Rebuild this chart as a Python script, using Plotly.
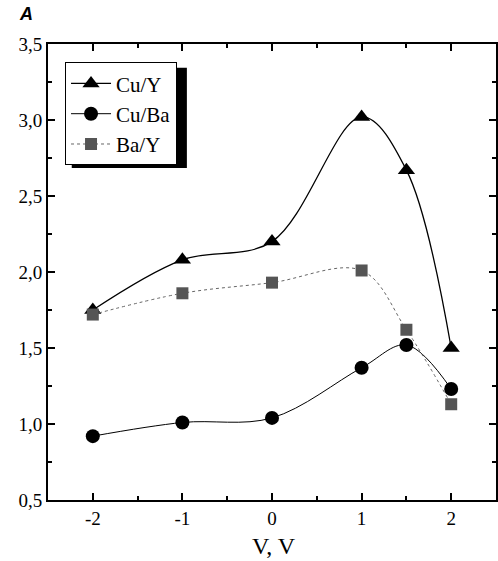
import plotly.graph_objects as go

voltage = [-2, -1, 0, 1, 1.5, 2]
cu_y = [1.75, 2.08, 2.20, 3.02, 2.67, 1.50]
cu_ba = [0.92, 1.01, 1.04, 1.37, 1.52, 1.23]
ba_y = [1.72, 1.86, 1.93, 2.01, 1.62, 1.13]

x_ticks = [-2, -1, 0, 1, 2]
y_ticks = [0.5, 1.0, 1.5, 2.0, 2.5, 3.0, 3.5]

FONT = "Liberation Serif"

fig = go.Figure()
fig.add_trace(go.Scatter(
    x=voltage, y=cu_y, name="Cu/Y", mode="lines+markers",
    line=dict(color="black", width=1.3, shape="spline", smoothing=1.0),
    marker=dict(symbol="triangle-up", size=15, color="black"),
))
fig.add_trace(go.Scatter(
    x=voltage, y=cu_ba, name="Cu/Ba", mode="lines+markers",
    line=dict(color="black", width=1, shape="spline", smoothing=1.0),
    marker=dict(symbol="circle", size=14, color="black"),
))
fig.add_trace(go.Scatter(
    x=voltage, y=ba_y, name="Ba/Y", mode="lines+markers",
    line=dict(color="#666666", width=1, dash="dot", shape="spline", smoothing=1.0),
    marker=dict(symbol="square", size=12, color="#555555"),
))

axis_common = dict(
    showline=True, linecolor="black", linewidth=2, mirror="ticks",
    ticks="inside", ticklen=7, tickwidth=2, tickcolor="black",
    showgrid=False, zeroline=False, automargin=False,
    tickfont=dict(family=FONT, size=19, color="black"),
)

fig.update_layout(
    width=498, height=561,
    margin=dict(l=48, r=2, t=44, b=61),
    paper_bgcolor="white", plot_bgcolor="white",
    separators=", ",
    showlegend=True,
    legend=dict(
        x=0.038, y=0.96, xanchor="left", yanchor="top",
        bgcolor="white", bordercolor="black", borderwidth=1,
        font=dict(family=FONT, size=21, color="black"),
        itemwidth=40, tracegroupgap=2,
    ),
    xaxis=dict(
        range=[-2.5, 2.5], tickvals=x_ticks, ticktext=[str(v) for v in x_ticks],
        minor=dict(ticks="inside", dtick=0.5, tick0=0, ticklen=4, tickwidth=1.5, tickcolor="black"),
        **axis_common,
    ),
    yaxis=dict(
        range=[0.5, 3.5], tickvals=y_ticks, tickformat=".1f",
        minor=dict(ticks="inside", dtick=0.25, tick0=0, ticklen=4, tickwidth=1.5, tickcolor="black"),
        **axis_common,
    ),
    shapes=[dict(
        type="rect", xref="paper", yref="paper", layer="above",
        x0=0.053, x1=0.31, y0=0.728, y1=0.948,
        fillcolor="black", line=dict(width=0),
    )],
    annotations=[
        dict(
            text="<b><i>A</i></b>", xref="paper", yref="paper", x=-0.07, y=1.04,
            xanchor="left", yanchor="bottom", showarrow=False,
            font=dict(family="Liberation Sans", size=18, color="black"),
        ),
        dict(
            text="V, V", xref="paper", yref="paper", x=0.505, y=-0.068,
            xanchor="center", yanchor="top", showarrow=False,
            font=dict(family=FONT, size=24, color="black"),
        ),
    ],
)

fig.write_html(
    "out.html",
    config={"displayModeBar": False},
    post_script="document.body.style.margin='0';document.body.style.overflow='hidden';",
)
